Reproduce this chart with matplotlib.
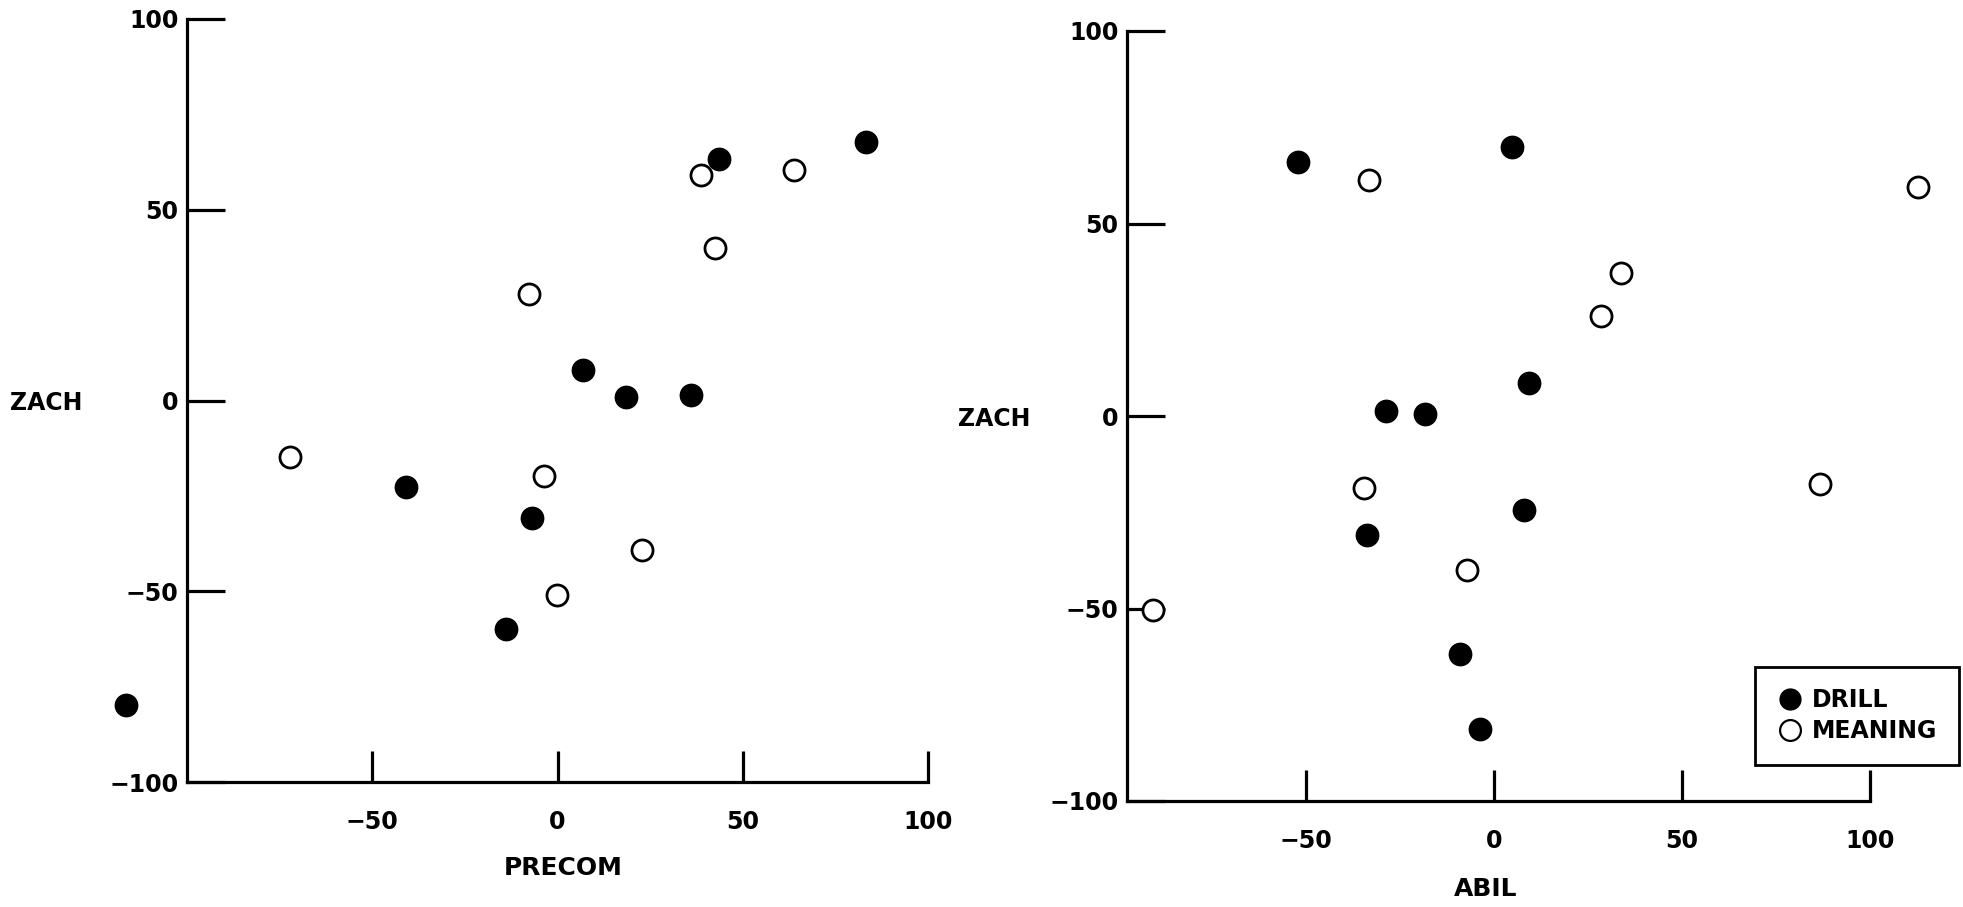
import matplotlib
matplotlib.use("Agg")
import matplotlib.pyplot as plt
from matplotlib.lines import Line2D

plt.rcParams['font.family'] = ['DejaVu Sans']

# left panel: PRECOM vs ZACH
precom_drill = [83.4, 43.5, 6.9, 18.6, 36.1, -40.8, -7.0, -13.8, -116.4]
zach_drill_l = [67.8, 63.3, 8.1, 0.8, 1.5, -22.7, -30.7, -60.0, -79.7]
precom_meaning = [38.8, 63.8, 42.4, -7.6, -72.1, -3.7, 22.8, -0.2]
zach_meaning_l = [59.2, 60.4, 39.9, 28.0, -14.9, -19.7, -39.3, -51.0]

# right panel: ABIL vs ZACH
abil_drill = [-52.2, 4.7, -28.8, -18.3, 9.3, -33.8, 8.0, -9.0, -3.8]
zach_drill_r = [66.1, 70.0, 1.4, 0.6, 8.7, -30.8, -24.5, -61.7, -81.2]
abil_meaning = [-33.2, 112.8, 33.7, 28.5, -34.7, 86.8, -7.2, -90.7]
zach_meaning_r = [61.4, 59.6, 37.1, 26.1, -18.6, -17.6, -40.0, -50.5]

ticks = [-100, -50, 0, 50, 100]
xticks = [-50, 0, 50, 100]

W, H = 1963, 907
fig = plt.figure(figsize=(W / 100, H / 100), dpi=100)

def setup(ax, xlo, xlabel, xlab_pos, ylab_pos):
    ax.set_xlim(xlo, 100)
    ax.set_ylim(-100, 100)
    for s in ['top', 'right']:
        ax.spines[s].set_visible(False)
    for s in ['left', 'bottom']:
        ax.spines[s].set_linewidth(2.3)
    ax.set_yticks(ticks)
    ax.set_xticks(xticks)
    ax.set_yticklabels([str(t).replace('-', '\u2212') for t in ticks])
    ax.set_xticklabels([str(t).replace('-', '\u2212') for t in xticks])
    ax.tick_params(axis='y', direction='in', length=27, width=2.3, pad=6,
                   labelsize=17)
    ax.tick_params(axis='x', direction='in', length=22, width=2.3, pad=20,
                   labelsize=17)
    for lab in ax.get_xticklabels() + ax.get_yticklabels():
        lab.set_fontweight('bold')
    fig.text(xlab_pos[0] / W, 1 - xlab_pos[1] / H, xlabel, ha='center',
             va='center', fontsize=18, fontweight='bold')
    fig.text(ylab_pos[0] / W, 1 - ylab_pos[1] / H, 'ZACH', ha='left',
             va='center', fontsize=17, fontweight='bold')

def points(ax, xd, yd, xm, ym):
    ax.scatter(xd, yd, s=260, c='black', edgecolors='black', clip_on=False,
               zorder=3)
    ax.scatter(xm, ym, s=230, facecolors='white', edgecolors='black',
               linewidths=2.0, clip_on=False, zorder=3)

ax1 = fig.add_axes([187 / W, 1 - 782 / H, 741 / W, 763 / H])
setup(ax1, -100, 'PRECOM', (563, 868), (10, 403))
points(ax1, precom_drill, zach_drill_l, precom_meaning, zach_meaning_l)

ax2 = fig.add_axes([1127 / W, 1 - 801 / H, 743 / W, 770 / H])
setup(ax2, -97.6, 'ABIL', (1486, 889), (958, 419))
points(ax2, abil_drill, zach_drill_r, abil_meaning, zach_meaning_r)

handles = [
    Line2D([], [], marker='o', ls='none', ms=15, mfc='black', mec='black'),
    Line2D([], [], marker='o', ls='none', ms=15, mfc='white', mec='black',
           mew=1.6),
]
leg = fig.legend(handles, ['DRILL', 'MEANING'], loc='upper right',
                 bbox_to_anchor=(1959 / W, 1 - 667 / H), borderaxespad=0,
                 fancybox=False, edgecolor='black', framealpha=1,
                 handletextpad=0.35, borderpad=0.9, labelspacing=0.3,
                 handlelength=1.2, prop={'size': 17, 'weight': 'bold'})
leg.get_frame().set_linewidth(2.0)

fig.savefig('out.png', dpi=100)
